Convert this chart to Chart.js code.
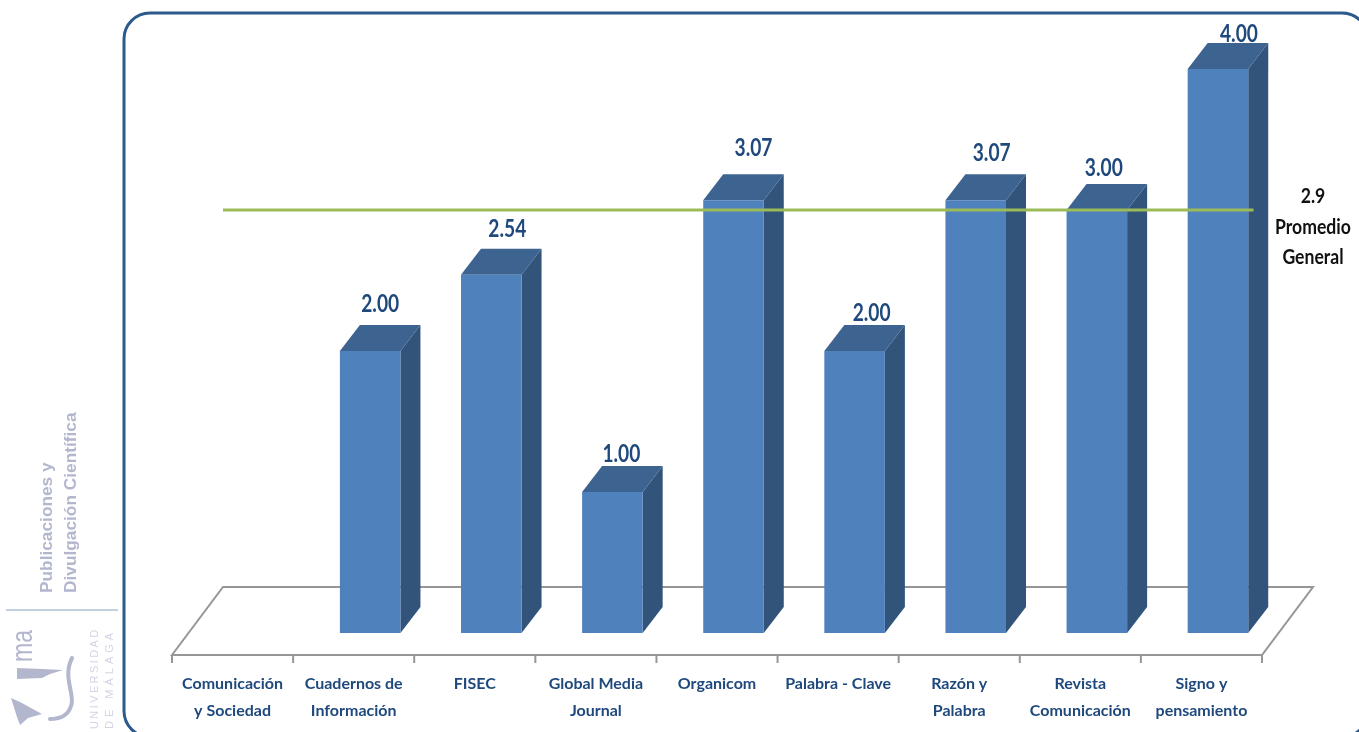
<!DOCTYPE html>
<html>
<head>
<meta charset="utf-8">
<title>Promedio por revista</title>
<script src="https://cdn.jsdelivr.net/npm/chart.js@4"></script>
<style>
    html, body { margin: 0; padding: 0; background: #fff; overflow: hidden; }
    canvas { display: block; }
</style>
</head>
<body>
<canvas id="chart" width="1359" height="732"></canvas>
<script>
const journals = [
    ['Comunicación', 'y Sociedad'],
    ['Cuadernos de', 'Información'],
    ['FISEC'],
    ['Global Media', 'Journal'],
    ['Organicom'],
    ['Palabra - Clave'],
    ['Razón y', 'Palabra'],
    ['Revista', 'Comunicación'],
    ['Signo y', 'pensamiento']
];
const scores = [null, 2.00, 2.54, 1.00, 3.07, 2.00, 3.07, 3.00, 4.00];
const averageScore = 2.9;
const averageLines = ['Promedio', 'General'];

// value labels were placed by hand in the original, so each has its own nudge
const labelNudgeX = [0, 10, 16, 9, 20, 17, 16, 7, 21];
const labelNudgeY = [0, -47, -46, -38, -52, -38, -47, -42, -35];

const FONT = 'Lato, "Liberation Sans", sans-serif';
const NAVY = '#1f497d';

// fake 3D depth of the bars and the floor
const depthX = 20;
const depthY = 26;
const floorShift = 16.5;
const floorDrop = 22;
const floorRise = 46;
const floorBackX = 51;
const lineRise = 14;

function poly(ctx, pts, fill) {
    ctx.beginPath();
    pts.forEach((p, i) => i ? ctx.lineTo(p[0], p[1]) : ctx.moveTo(p[0], p[1]));
    ctx.closePath();
    ctx.fillStyle = fill;
    ctx.fill();
}

function rotatedText(ctx, text, x, y, font, color, spacing, squeeze) {
    ctx.save();
    ctx.translate(x, y);
    ctx.rotate(-Math.PI / 2);
    ctx.scale(squeeze || 1, 1);
    ctx.font = font;
    ctx.fillStyle = color;
    ctx.letterSpacing = spacing || '0px';
    ctx.textAlign = 'left';
    ctx.textBaseline = 'middle';
    ctx.fillText(text, 0, 0);
    ctx.restore();
}

// the original type is a narrow face, Lato gets squeezed to fit
function squeezedText(ctx, text, x, y, squeeze) {
    ctx.save();
    ctx.translate(x, y);
    ctx.scale(squeeze, 1);
    ctx.fillText(text, 0, 0);
    ctx.restore();
}

// Frame and university logo
const framePlugin = {
    id: 'frame',
    beforeDraw(chart) {
        const ctx = chart.ctx;
        ctx.save();
        ctx.fillStyle = '#fff';
        ctx.fillRect(0, 0, chart.width, chart.height);

        ctx.beginPath();
        ctx.roundRect(124, 13, 1244, 724, 26);
        ctx.strokeStyle = '#2c5a8c';
        ctx.lineWidth = 3;
        ctx.stroke();

        const grey = '#b3b7ce';
        rotatedText(ctx, 'Publicaciones y', 47, 593, 'bold 17.3px "Liberation Sans"', grey);
        rotatedText(ctx, 'Divulgación Científica', 71, 593, 'bold 17.3px "Liberation Sans"', grey);
        rotatedText(ctx, 'ma', 24, 662, '30px "Liberation Sans"', grey, '0px', 0.77);
        rotatedText(ctx, 'UNIVERSIDAD', 95, 729, '11px "Liberation Sans"', '#d2d5e4', '2.4px');
        rotatedText(ctx, 'DE MÁLAGA', 110, 729, '11px "Liberation Sans"', '#d2d5e4', '4px');

        ctx.fillStyle = '#c3d0e2';
        ctx.fillRect(6, 609, 112, 2);

        poly(ctx, [[17, 668], [42, 669], [63, 670], [50, 674], [42, 678], [17, 679]], grey);
        poly(ctx, [[11, 698], [20, 702], [42, 714], [28, 718], [20, 725], [17, 717]], grey);
        ctx.beginPath();
        ctx.moveTo(72, 658);
        ctx.bezierCurveTo(62, 678, 76, 696, 71, 706);
        ctx.bezierCurveTo(68, 716, 60, 719, 50, 719);
        ctx.strokeStyle = grey;
        ctx.lineWidth = 4;
        ctx.lineCap = 'round';
        ctx.stroke();
        ctx.restore();
    }
};

// Floor, value labels and the side and top faces of the bars
const depthPlugin = {
    id: 'depth',
    beforeDatasetsDraw(chart) {
        const ctx = chart.ctx;
        const area = chart.chartArea;
        const left = area.left - floorShift;
        const right = area.right - floorShift;
        const front = area.bottom + floorDrop;
        const back = area.bottom - floorRise;

        ctx.save();
        ctx.beginPath();
        ctx.moveTo(left, front);
        ctx.lineTo(left + floorBackX, back);
        ctx.lineTo(right + floorBackX, back);
        ctx.lineTo(right, front);
        ctx.closePath();
        ctx.strokeStyle = '#969696';
        ctx.lineWidth = 2;
        ctx.stroke();

        const step = (right - left) / journals.length;
        journals.forEach((j, i) => {
            ctx.beginPath();
            ctx.moveTo(left + step * i, front);
            ctx.lineTo(left + step * i, front + 8);
            ctx.stroke();
        });
        ctx.beginPath();
        ctx.moveTo(right, front);
        ctx.lineTo(right, front + 8);
        ctx.stroke();

        const bars = chart.getDatasetMeta(0).data;
        ctx.font = 'bold 24px ' + FONT;
        ctx.fillStyle = NAVY;
        ctx.textAlign = 'center';
        ctx.textBaseline = 'middle';
        scores.forEach((v, i) => {
            if (v === null) return;
            squeezedText(ctx, v.toFixed(2), bars[i].x + labelNudgeX[i], bars[i].y + labelNudgeY[i], 0.8);
        });

        scores.forEach((v, i) => {
            if (v === null) return;
            const b = bars[i];
            const l = b.x - b.width / 2;
            const r = b.x + b.width / 2;
            poly(ctx, [[r, b.y], [r + depthX, b.y - depthY], [r + depthX, b.base - depthY], [r, b.base]], '#32547b');
            poly(ctx, [[l, b.y], [l + depthX, b.y - depthY], [r + depthX, b.y - depthY], [r, b.y]], '#3d6391');
        });
        ctx.restore();
    },
    afterDatasetsDraw(chart) {
        const ctx = chart.ctx;
        const area = chart.chartArea;
        const y = chart.scales.y.getPixelForValue(averageScore) - lineRise;
        const cx = area.right + 34.5;

        ctx.save();
        ctx.beginPath();
        ctx.moveTo(area.left - floorShift + floorBackX, y);
        ctx.lineTo(area.right - 25, y);
        ctx.strokeStyle = '#9bbb59';
        ctx.lineWidth = 3;
        ctx.stroke();

        ctx.fillStyle = '#111';
        ctx.font = 'bold 20px ' + FONT;
        ctx.textAlign = 'center';
        ctx.textBaseline = 'middle';
        squeezedText(ctx, averageScore.toFixed(1), cx, y - 14, 0.88);
        averageLines.forEach((line, i) => squeezedText(ctx, line, cx, y + 17 + i * 30, 0.88));
        ctx.restore();
    }
};

new Chart(document.getElementById('chart'), {
    type: 'bar',
    data: {
        labels: journals,
        datasets: [{
            data: scores,
            backgroundColor: '#4f81bd',
            categoryPercentage: 0.5,
            barPercentage: 1
        }]
    },
    options: {
        responsive: false,
        animation: false,
        layout: { padding: { left: 188.5, right: 80.5, top: 69, bottom: 0 } },
        plugins: {
            legend: { display: false },
            tooltip: { enabled: false }
        },
        scales: {
            x: {
                grid: { display: false, drawTicks: false },
                border: { display: false },
                afterFit(scale) { scale.height = 99; },
                ticks: {
                    autoSkip: false,
                    maxRotation: 0,
                    minRotation: 0,
                    padding: 37,
                    labelOffset: -floorShift,
                    color: NAVY,
                    font: { family: FONT, size: 16, weight: 'bold', lineHeight: 27 / 16 }
                }
            },
            y: {
                display: false,
                min: 0,
                max: 4
            }
        }
    },
    plugins: [framePlugin, depthPlugin]
});
</script>
</body>
</html>
